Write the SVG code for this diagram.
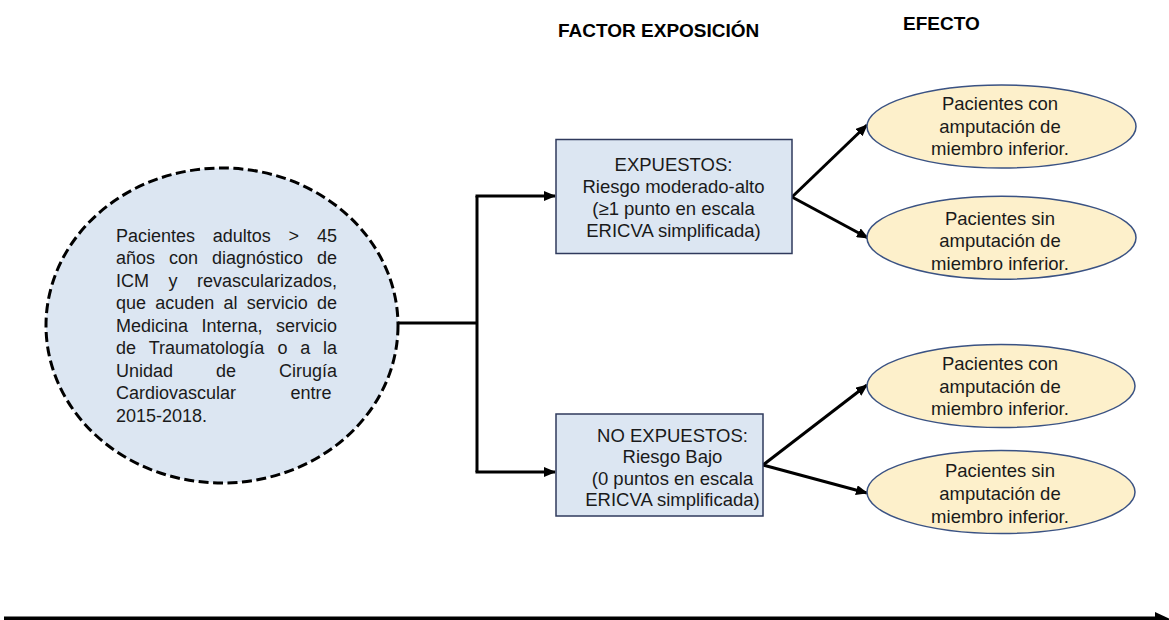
<svg xmlns="http://www.w3.org/2000/svg" width="1169" height="620" viewBox="0 0 1169 620">
<style>
text{font-family:"Liberation Sans",Arial,sans-serif;fill:#1a1a1a}
.c{font-size:18px}
.b{font-size:18.5px;text-anchor:middle}
.h{font-size:19px;font-weight:bold;fill:#000}
.e{text-anchor:end}
.box{fill:#dce6f2;stroke:#2f3a5c;stroke-width:1.5}
.ell{fill:#fdf0cb;stroke:#3a5283;stroke-width:1.5}
.ln{fill:none;stroke:#000;stroke-width:3}
</style>
<defs>
<marker id="ah" markerUnits="userSpaceOnUse" markerWidth="12" markerHeight="10" refX="11" refY="5" orient="auto">
<path d="M0,0 L12,5 L0,10 Z" fill="#000"/>
</marker>
</defs>
<rect width="1169" height="620" fill="#fff"/>
<text class="h" x="558" y="37">FACTOR EXPOSICIÓN</text>
<text class="h" x="903" y="29.5">EFECTO</text>
<g id="connectors">
<path class="ln" d="M398,323 H477 M477,196 V472"/>
<path class="ln" d="M475.5,196 H555" marker-end="url(#ah)"/>
<path class="ln" d="M475.5,472 H555" marker-end="url(#ah)"/>
<path class="ln" d="M792,197 L867,125" marker-end="url(#ah)"/>
<path class="ln" d="M792,197 L868,238" marker-end="url(#ah)"/>
<path class="ln" d="M763,465 L867,385" marker-end="url(#ah)"/>
<path class="ln" d="M763,465 L867,493" marker-end="url(#ah)"/>
<line x1="4" y1="618.5" x2="1158" y2="618.5" stroke="#000" stroke-width="4"/>
<path d="M1155,612 L1172,620 L1155,628 Z" fill="#000"/>
</g>
<g id="poblacion">
<ellipse cx="222" cy="325.5" rx="176" ry="157.5" fill="#dce6f2" stroke="#000" stroke-width="3" stroke-dasharray="10,4.5"/>
<text class="c" y="241.5"><tspan x="116">Pacientes</tspan><tspan x="212.8">adultos</tspan><tspan x="288.6">&gt;</tspan><tspan x="317">45</tspan></text>
<text class="c" y="264"><tspan x="116">años</tspan><tspan x="169">con</tspan><tspan x="212">diagnóstico</tspan><tspan x="317">de</tspan></text>
<text class="c" y="286.5"><tspan x="116">ICM</tspan><tspan x="168.5">y</tspan><tspan x="197">revascularizados,</tspan></text>
<text class="c" y="309"><tspan x="116">que</tspan><tspan x="155.25">acuden</tspan><tspan x="223.5">al</tspan><tspan x="246.75">servicio</tspan><tspan x="317">de</tspan></text>
<text class="c" y="331.5"><tspan x="116">Medicina</tspan><tspan x="201.5">Interna,</tspan><tspan x="276">servicio</tspan></text>
<text class="c" y="354"><tspan x="116">de</tspan><tspan x="148.75">Traumatología</tspan><tspan x="277.5">o</tspan><tspan x="300.25">a</tspan><tspan x="323">la</tspan></text>
<text class="c" y="376.5"><tspan x="116">Unidad</tspan><tspan x="216">de</tspan><tspan x="279">Cirugía</tspan></text>
<text class="c" y="399"><tspan x="116">Cardiovascular</tspan><tspan x="290.5">entre</tspan></text>
<text class="c" x="116" y="421.5">2015-2018.</text>
</g>
<g id="expuestos">
<rect class="box" x="556" y="139.5" width="236" height="114"/>
<text class="b" x="673.5" y="170.8">EXPUESTOS:</text>
<text class="b" x="673.5" y="192.6">Riesgo moderado-alto</text>
<text class="b" x="673.5" y="214.6">(≥1 punto en escala</text>
<text class="b" x="673.5" y="236.6">ERICVA simplificada)</text>
</g>
<g id="no-expuestos">
<rect class="box" x="556" y="414" width="207" height="102"/>
<text class="b" x="672.5" y="441.6">NO EXPUESTOS:</text>
<text class="b" x="672.5" y="463.3">Riesgo Bajo</text>
<text class="b" x="672.5" y="485">(0 puntos en escala</text>
<text class="b" x="672.5" y="506">ERICVA simplificada)</text>
</g>
<g id="efecto1">
<ellipse class="ell" cx="1001.5" cy="126.5" rx="134.5" ry="41.5"/>
<text class="b" x="1000" y="110">Pacientes con</text>
<text class="b" x="1000" y="132.5">amputación de</text>
<text class="b" x="1000" y="155">miembro inferior.</text>
</g>
<g id="efecto2">
<ellipse class="ell" cx="1001.5" cy="237.7" rx="134.5" ry="41.5"/>
<text class="b" x="1000" y="225">Pacientes sin</text>
<text class="b" x="1000" y="247">amputación de</text>
<text class="b" x="1000" y="269.5">miembro inferior.</text>
</g>
<g id="efecto3">
<ellipse class="ell" cx="1001" cy="386" rx="134" ry="41.5"/>
<text class="b" x="1000" y="370">Pacientes con</text>
<text class="b" x="1000" y="393">amputación de</text>
<text class="b" x="1000" y="415">miembro inferior.</text>
</g>
<g id="efecto4">
<ellipse class="ell" cx="1001" cy="492" rx="134" ry="41.5"/>
<text class="b" x="1000" y="476.5">Pacientes sin</text>
<text class="b" x="1000" y="499.5">amputación de</text>
<text class="b" x="1000" y="523">miembro inferior.</text>
</g>
</svg>
